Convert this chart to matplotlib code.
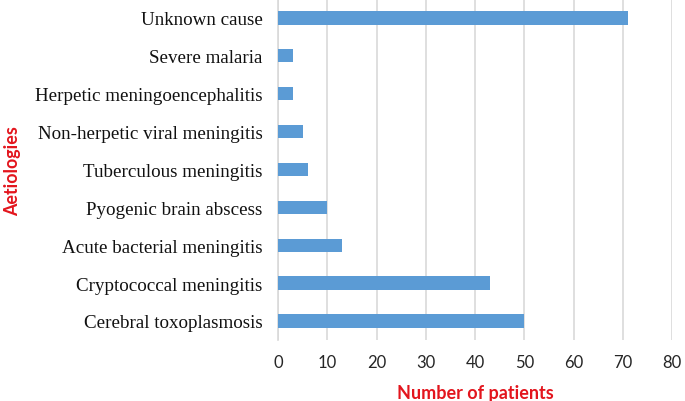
import matplotlib.pyplot as plt

causes = ["Cerebral toxoplasmosis", "Cryptococcal meningitis", "Acute bacterial meningitis",
          "Pyogenic brain abscess", "Tuberculous meningitis", "Non-herpetic viral meningitis",
          "Herpetic meningoencephalitis", "Severe malaria", "Unknown cause"]
patients = [50, 43, 13, 10, 6, 5, 3, 3, 71]
xticks = [0, 10, 20, 30, 40, 50, 60, 70, 80]

RED = '#E3151D'

fig = plt.figure(figsize=(6.85, 4.02), dpi=100)
ax = fig.add_axes([0.406, 0.152, 0.575, 0.848])

ax.barh(range(len(causes)), patients, height=0.35, color='#5B9BD5', zorder=3)
ax.set_xlim(0, 80)
ax.set_ylim(-0.5, len(causes) - 0.5)
ax.set_xticks(xticks)
ax.set_xticklabels([str(t) for t in xticks], family='Lato', fontsize=12, color='#262626')
ax.set_yticks(range(len(causes)))
ax.set_yticklabels(causes, family='Liberation Serif', fontsize=13.7, color='#111111')
ax.tick_params(axis='y', length=0, pad=11)
ax.tick_params(axis='x', length=0, pad=10)
ax.grid(axis='x', color='#D9D9D9', linewidth=1.2, zorder=0)

for s in ['top', 'right', 'bottom']:
    ax.spines[s].set_visible(False)
ax.spines['left'].set_color('#D9D9D9')
ax.spines['left'].set_linewidth(1.2)

ax.set_xlabel("Number of patients", family='Lato', fontweight='bold', fontsize=13, color=RED, labelpad=10)
fig.text(0.019, 0.575, "Aetiologies", rotation=90, ha='center', va='center',
         family='Lato', fontweight='bold', fontsize=12.9, color=RED)

fig.savefig('out.png', dpi=100)
